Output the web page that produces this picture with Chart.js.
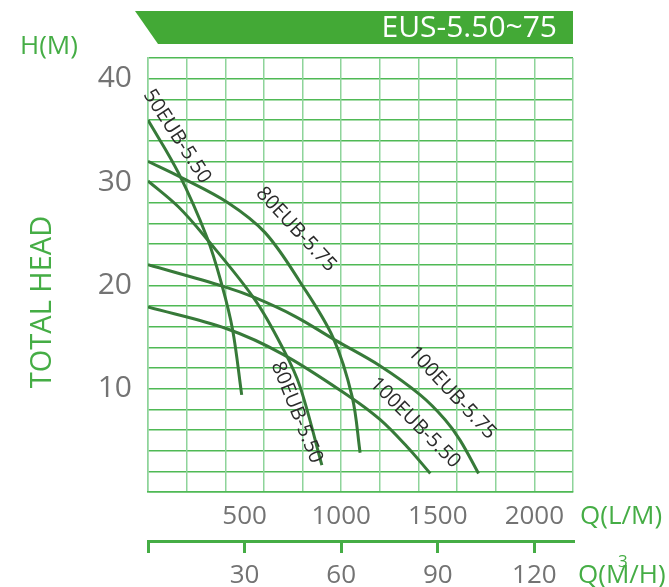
<!DOCTYPE html>
<html>
<head>
<meta charset="utf-8">
<script src="https://cdn.jsdelivr.net/npm/chart.js@4"></script>
<style>
  html, body { margin: 0; padding: 0; background: #fff; }
</style>
</head>
<body>
<canvas id="pumpchart" width="669" height="587"></canvas>
<script>
// flow in L/min, head in m
const flow50_550 = [0, 157, 306, 383, 438, 485];
const head50_550 = [36.0, 30.9, 24.6, 20.0, 15.7, 9.4];

const flow80_575 = [0, 166, 414, 606, 788, 959, 1057, 1098];
const head80_575 = [32.0, 30.5, 28.0, 25.1, 20.3, 14.9, 9.2, 3.8];

const flow80_550 = [0, 157, 295, 554, 701, 787, 900];
const head80_550 = [30.1, 27.6, 24.7, 18.6, 13.8, 10.2, 2.6];

const flow100_575 = [0, 390, 554, 761, 969, 1202, 1409, 1538, 1616, 1711];
const head100_575 = [22.0, 19.9, 18.8, 17.0, 14.7, 12.2, 9.4, 7.0, 5.0, 1.8];

const flow100_550 = [0, 408, 701, 1046, 1202, 1340, 1461];
const head100_550 = [17.9, 15.8, 13.3, 9.2, 7.0, 4.4, 1.8];

const curveNames = ["50EUB-5.50", "80EUB-5.75", "80EUB-5.50", "100EUB-5.75", "100EUB-5.50"];

const headTicks = [10, 20, 30, 40];
const flowTicksLpm = [500, 1000, 1500, 2000];
const flowTicksM3h = [30, 60, 90, 120];

// where the curve names sit (data coords) and their slant
const labelSpots = [
  { q: 150, h: 34.4, angle: 57 },
  { q: 767, h: 25.4, angle: 47 },
  { q: 770, h: 7.7, angle: 68 },
  { q: 1573, h: 9.6, angle: 47 },
  { q: 1383, h: 6.7, angle: 45 },
];

const green = "#45ad45";
const grey = "#737373";
const curveColor = "#377a39";

const zip = (xs, ys) => xs.map((v, i) => ({ x: v, y: ys[i] }));
const series = [
  zip(flow50_550, head50_550),
  zip(flow80_575, head80_575),
  zip(flow80_550, head80_550),
  zip(flow100_575, head100_575),
  zip(flow100_550, head100_550),
];

const decorations = {
  id: "decorations",
  afterDraw(chart) {
    const ctx = chart.ctx;
    const area = chart.chartArea;
    const xs = chart.scales.x;
    const ys = chart.scales.y;
    ctx.save();

    // title banner
    ctx.fillStyle = "#43a936";
    ctx.beginPath();
    ctx.moveTo(135, 11);
    ctx.lineTo(area.right, 11);
    ctx.lineTo(area.right, 44);
    ctx.lineTo(158, 44);
    ctx.closePath();
    ctx.fill();
    ctx.fillStyle = "#fff";
    ctx.font = "500 30px 'Open Sans'";
    ctx.textAlign = "right";
    ctx.textBaseline = "alphabetic";
    ctx.fillText("EUS-5.50~75", 557, 37);

    // axis names
    ctx.fillStyle = green;
    ctx.font = "26px 'Open Sans'";
    ctx.textAlign = "left";
    ctx.textBaseline = "middle";
    ctx.fillText("H(M)", 20, 47);
    ctx.fillText("Q(L/M)", 580, 517);
    ctx.fillText("Q(M/H)", 578, 576);
    ctx.font = "17px 'Open Sans'";
    ctx.fillText("3", 618, 562);

    ctx.save();
    ctx.font = "29px 'Open Sans'";
    ctx.translate(43, 302);
    ctx.rotate(-Math.PI / 2);
    ctx.textAlign = "center";
    ctx.fillText("TOTAL HEAD", 0, 0);
    ctx.restore();

    // curve names
    ctx.fillStyle = "#2b2b2b";
    ctx.font = "20px 'Open Sans'";
    ctx.textAlign = "center";
    curveNames.forEach((name, i) => {
      const s = labelSpots[i];
      ctx.save();
      ctx.translate(xs.getPixelForValue(s.q), ys.getPixelForValue(s.h));
      ctx.rotate(s.angle * Math.PI / 180);
      ctx.fillText(name, 0, 0);
      ctx.restore();
    });
    ctx.restore();
  },
};

new Chart(document.getElementById("pumpchart"), {
  type: "line",
  data: {
    datasets: series.map((pts, i) => ({
      label: curveNames[i],
      data: pts,
      borderColor: curveColor,
      borderWidth: 3,
      pointRadius: 0,
      tension: 0.35,
      fill: false,
    })),
  },
  options: {
    responsive: false,
    animation: false,
    layout: { padding: { top: 58, right: 96, left: 0, bottom: 0 } },
    plugins: { legend: { display: false }, tooltip: { enabled: false } },
    scales: {
      y: {
        min: 0,
        max: 42,
        ticks: {
          stepSize: 2,
          color: grey,
          font: { family: "'Open Sans'", size: 30 },
          padding: 16,
          autoSkip: false,
          callback: (v) => (headTicks.includes(v) ? String(v) : ""),
        },
        grid: { color: "#4fb955", lineWidth: 1.5, drawTicks: false },
        border: { color: "#8ed49a", width: 1.5 },
        afterFit: (s) => { s.width = 148; },
      },
      x: {
        type: "linear",
        position: "bottom",
        min: 0,
        max: 2200,
        ticks: { stepSize: 200, display: false },
        grid: { color: "#8ed49a", lineWidth: 1.5, drawTicks: false },
        border: { color: "#4fb955", width: 1.5 },
        afterFit: (s) => { s.height = 0; },
      },
      xl: {
        type: "linear",
        position: "bottom",
        min: 0,
        max: 2200,
        afterBuildTicks: (s) => { s.ticks = flowTicksLpm.map((v) => ({ value: v })); },
        ticks: {
          color: grey,
          font: { family: "'Open Sans'", size: 26 },
          padding: 9,
          autoSkip: false,
          maxRotation: 0,
          callback: (v) => String(v),
        },
        grid: { display: false, drawTicks: false },
        border: { display: false },
        afterFit: (s) => { s.height = 49; },
      },
      xm: {
        type: "linear",
        position: "bottom",
        min: 0,
        max: 132,
        afterBuildTicks: (s) => { s.ticks = [0].concat(flowTicksM3h).map((v) => ({ value: v })); },
        ticks: {
          color: grey,
          font: { family: "'Open Sans'", size: 26 },
          padding: 7,
          autoSkip: false,
          maxRotation: 0,
          callback: (v) => (v === 0 ? "" : String(v)),
        },
        grid: { drawOnChartArea: false, color: green, lineWidth: 3, tickLength: 12 },
        border: { color: green, width: 3 },
        afterFit: (s) => { s.height = 46; },
      },
    },
  },
  plugins: [decorations],
});
</script>
</body>
</html>
